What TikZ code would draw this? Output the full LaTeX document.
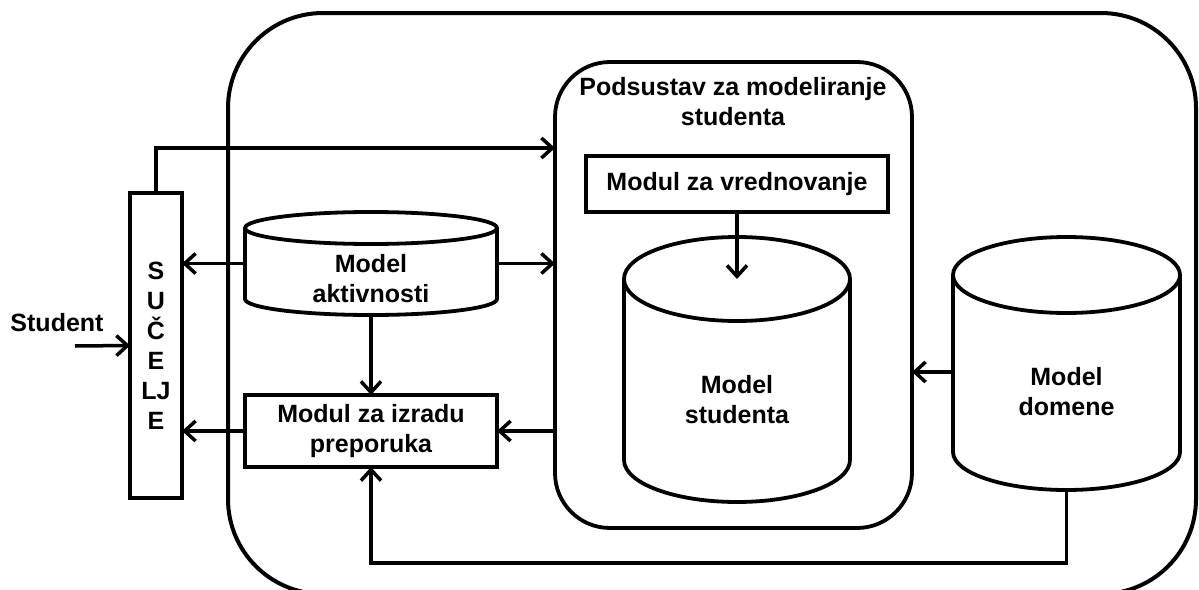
\documentclass[tikz,border=0pt]{standalone}
\usepackage{fontspec}
\setmainfont{Liberation Sans}
\usetikzlibrary{arrows.meta}
\begin{document}
\begin{tikzpicture}[x=1pt,y=1pt,
  box/.style={draw=black, line width=3.8pt},
  ghost/.style={inner sep=0pt, outer sep=0pt},
  lbl/.style={align=center, inner sep=0pt, font=\fontsize{25}{30}\selectfont\bfseries},
  arr/.style={line width=3.5pt, -{Straight Barb[length=11pt,width=20pt,line width=3.5pt]}},
  conn/.style={line width=3.5pt}]
\useasboundingbox (0,0) rectangle (1199,-589);
% outer system box
\draw[box, line width=4pt, rounded corners=95pt] (228,-13) rectangle (1196,-594);
% interface
\node[box, ghost, minimum width=52pt, minimum height=305pt] (if) at (156,-345.5) {};
\node[lbl] (iftext) at (156,-346) {S\\U\\Č\\E\\LJ\\E};
\node[lbl] (student) at (57,-323) {Student};
\coordinate (sin) at (75,-346);
% subsystem
\node[box, ghost, rounded corners=55pt, minimum width=357pt, minimum height=466pt] (ps) at (733.5,-295) {};
\node[lbl] (pstitle) at (733,-102) {Podsustav za modeliranje\\studenta};
\node[box, ghost, minimum width=302pt, minimum height=56pt, lbl] (mv) at (737,-184) {Modul za vrednovanje};
% Model aktivnosti cylinder
\node[ghost, minimum width=252pt, minimum height=103pt] (ma) at (371,-263.5) {};
\draw[box] (245,-228) -- (245,-299) arc[start angle=180,end angle=360,x radius=126pt,y radius=16pt] -- (497,-228);
\draw[box] (371,-228) ellipse[x radius=126pt, y radius=16pt];
\node[lbl] (matext) at (371,-279) {Model\\aktivnosti};
% Model studenta cylinder
\node[ghost, minimum width=226pt, minimum height=265pt] (ms) at (737,-369.5) {};
\draw[box] (624,-279) -- (624,-460) arc[start angle=180,end angle=360,x radius=113pt,y radius=42pt] -- (850,-279);
\draw[box] (737,-279) ellipse[x radius=113pt, y radius=42pt];
\coordinate (mstop) at (737,-279);
\node[lbl] (mstext) at (737,-400) {Model\\studenta};
% Model domene cylinder
\node[ghost, minimum width=227pt, minimum height=253pt] (md) at (1066.5,-363.5) {};
\draw[box] (953,-275) -- (953,-452) arc[start angle=180,end angle=360,x radius=113.5pt,y radius=38pt] -- (1180,-275);
\draw[box] (1066.5,-275) ellipse[x radius=113.5pt, y radius=38pt];
\node[lbl] (mdtext) at (1066.5,-392) {Model\\domene};
% Modul za izradu preporuka
\node[box, ghost, minimum width=252pt, minimum height=72pt, lbl] (mp) at (371,-431) {Modul za izradu\\preporuka};
% connectors
\draw[arr] (sin) -- (if.west);
\draw[arr] (if.north) |- (ps.west |- 0,-148);
\draw[arr] (ma.west) -- (if.east |- ma.west);
\draw[arr] (ma.east) -- (ps.west |- ma.east);
\draw[arr] (ma.south) -- (mp.north);
\draw[arr] (mp.west) -- (if.east |- mp.west);
\draw[arr] (ps.west |- mp.east) -- (mp.east);
\draw[arr] (mv.south) -- (mstop);
\draw[arr] (md.west |- 0,-372) -- (ps.east |- 0,-372);
\draw[arr] (md.south) -- (md.south |- 0,-563) -| (mp.south);
\end{tikzpicture}
\end{document}
